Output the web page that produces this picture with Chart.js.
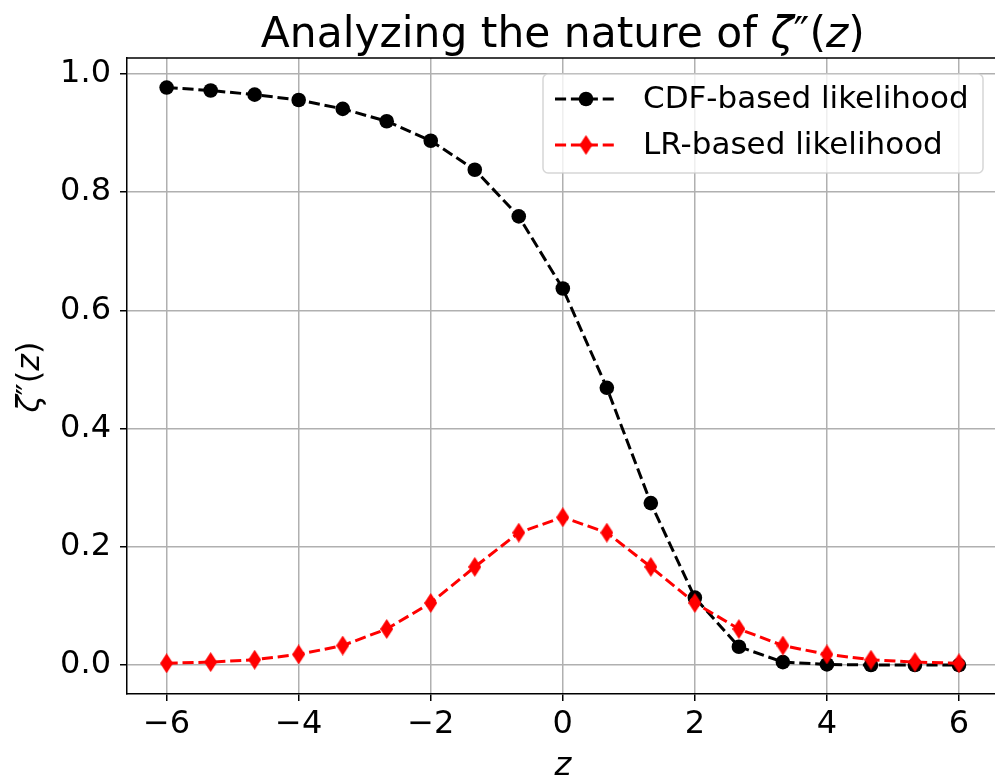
<!DOCTYPE html>
<html>
<head>
<meta charset="utf-8">
<script src="https://cdn.jsdelivr.net/npm/chart.js@4.4.1/dist/chart.umd.min.js"></script>
<style>
  html, body { margin: 0; padding: 0; background: #fff; overflow: hidden; }
  #wrap { width: 995px; height: 782px; overflow: hidden; }
</style>
</head>
<body>
<div id="wrap"><canvas id="zetaChart" width="1000" height="782"></canvas></div>
<script>
const zValues = [-6, -5.333, -4.667, -4, -3.333, -2.667, -2, -1.333, -0.667, 0, 0.667, 1.333, 2, 2.667, 3.333, 4, 4.667, 5.333, 6];
const cdfLikelihood = [0.977, 0.972, 0.965, 0.956, 0.941, 0.920, 0.887, 0.838, 0.759, 0.637, 0.469, 0.274, 0.114, 0.031, 0.005, 0.001, 0.0, 0.0, 0.0];
const lrLikelihood = [0.003, 0.005, 0.009, 0.018, 0.033, 0.061, 0.105, 0.166, 0.224, 0.250, 0.224, 0.166, 0.105, 0.061, 0.033, 0.018, 0.009, 0.005, 0.003];
const xTicks = [-6, -4, -2, 0, 2, 4, 6];
const yTicks = [0, 0.2, 0.4, 0.6, 0.8, 1.0];
const seriesLabels = ['CDF-based likelihood', 'LR-based likelihood'];

const FONT = 'DejaVu Sans';
const LINE_W = 3;
const DASH = [11.1, 4.8];

// matplotlib 'd' (thin diamond) marker
function thinDiamond(color) {
  const c = document.createElement('canvas');
  c.width = 13; c.height = 20;
  const g = c.getContext('2d');
  g.fillStyle = color;
  g.beginPath();
  g.moveTo(6.5, 0); g.lineTo(13, 10); g.lineTo(6.5, 20); g.lineTo(0, 10);
  g.closePath();
  g.fill();
  return c;
}
const diamondImg = thinDiamond('#ff0000');

function toPoints(ys) {
  return zValues.map((x, i) => ({ x, y: ys[i] }));
}

// draws text made of pieces with normal / italic faces
function drawMixed(ctx, parts, size, x, y) {
  let total = 0;
  parts.forEach(p => {
    ctx.font = `${p.i ? 'italic ' : ''}${size}px "${FONT}"`;
    p.w = ctx.measureText(p.t).width;
    total += p.w;
  });
  let cx = x - total / 2;
  parts.forEach(p => {
    ctx.font = `${p.i ? 'italic ' : ''}${size}px "${FONT}"`;
    ctx.fillText(p.t, cx, y);
    cx += p.w;
  });
}

const zetaLabel = [
  { t: 'ζ', i: true }, { t: '″' }, { t: '(' }, { t: 'z', i: true }, { t: ')' },
];

const decorations = {
  id: 'decorations',
  afterDraw(chart) {
    const { ctx, chartArea: a } = chart;
    ctx.save();
    ctx.fillStyle = '#000';
    ctx.textAlign = 'left';
    ctx.textBaseline = 'alphabetic';

    // frame: top and right spines
    ctx.strokeStyle = '#000';
    ctx.lineWidth = 1.5;
    ctx.beginPath();
    ctx.moveTo(a.left, a.top); ctx.lineTo(a.right, a.top); ctx.lineTo(a.right, a.bottom);
    ctx.stroke();

    // title
    drawMixed(ctx, [{ t: 'Analyzing the nature of ' }, ...zetaLabel], 42.4, (a.left + a.right) / 2, 47);

    // x label
    drawMixed(ctx, [{ t: 'z', i: true }], 32, (a.left + a.right) / 2, 775);

    // y label
    ctx.save();
    ctx.translate(39, 377);
    ctx.rotate(-Math.PI / 2);
    drawMixed(ctx, zetaLabel, 32, 0, 0);
    ctx.restore();

    // legend
    const bx = 543, by = 74, bw = 440, bh = 99;
    ctx.beginPath();
    ctx.roundRect(bx, by, bw, bh, 5);
    ctx.fillStyle = 'rgba(255,255,255,0.8)';
    ctx.fill();
    ctx.strokeStyle = 'rgba(204,204,204,0.8)';
    ctx.lineWidth = 1.5;
    ctx.stroke();

    const rows = [
      { color: '#000000', y: 99, marker: 'circle' },
      { color: '#ff0000', y: 145, marker: 'diamond' },
    ];
    rows.forEach((r, i) => {
      ctx.strokeStyle = r.color;
      ctx.lineWidth = LINE_W;
      ctx.setLineDash(DASH);
      ctx.beginPath();
      ctx.moveTo(555, r.y); ctx.lineTo(617, r.y);
      ctx.stroke();
      ctx.setLineDash([]);
      if (r.marker === 'circle') {
        ctx.fillStyle = r.color;
        ctx.beginPath();
        ctx.arc(586, r.y, 7.3, 0, Math.PI * 2);
        ctx.fill();
      } else {
        ctx.drawImage(diamondImg, 579.5, r.y - 10);
      }
      ctx.fillStyle = '#000';
      ctx.font = `31px "${FONT}"`;
      ctx.textAlign = 'left';
      ctx.textBaseline = 'middle';
      ctx.fillText(seriesLabels[i], 643, r.y + 1);
    });
    ctx.restore();
  },
};

new Chart(document.getElementById('zetaChart'), {
  type: 'line',
  data: {
    datasets: [
      {
        label: seriesLabels[0],
        data: toPoints(cdfLikelihood),
        borderColor: '#000000',
        backgroundColor: '#000000',
        borderWidth: LINE_W,
        borderDash: DASH,
        pointStyle: 'circle',
        pointRadius: 7.3,
        pointBorderWidth: 0,
        pointBackgroundColor: '#000000',
        tension: 0,
        order: 1,
      },
      {
        label: seriesLabels[1],
        data: toPoints(lrLikelihood),
        borderColor: '#ff0000',
        backgroundColor: '#ff0000',
        borderWidth: LINE_W,
        borderDash: DASH,
        pointStyle: diamondImg,
        pointRadius: 10,
        tension: 0,
        order: 0,
      },
    ],
  },
  options: {
    responsive: false,
    devicePixelRatio: 1,
    animation: false,
    layout: { autoPadding: false, padding: { top: 58, right: 1.4, bottom: 0, left: 0 } },
    plugins: {
      legend: { display: false },
      title: { display: false },
      tooltip: { enabled: false },
    },
    scales: {
      x: {
        type: 'linear',
        min: -6.6,
        max: 6.6,
        afterBuildTicks: (scale) => { scale.ticks = xTicks.map(v => ({ value: v })); },
        afterFit: (scale) => {
          scale.height = 88;
          scale.paddingLeft = 0;
          scale.paddingRight = 0;
        },
        grid: { color: '#b0b0b0', lineWidth: 1.5, tickColor: '#000', tickLength: 7 },
        border: { display: true, color: '#000', width: 1.5 },
        ticks: {
          color: '#000',
          font: { family: FONT, size: 32 },
          padding: 4,
          maxRotation: 0,
          callback: (v) => String(v).replace('-', '\u2212'),
        },
      },
      y: {
        type: 'linear',
        min: -0.049,
        max: 1.027,
        afterBuildTicks: (scale) => { scale.ticks = yTicks.map(v => ({ value: v })); },
        afterFit: (scale) => {
          scale.width = 127;
          scale.paddingTop = 0;
          scale.paddingBottom = 0;
        },
        grid: { color: '#b0b0b0', lineWidth: 1.5, tickColor: '#000', tickLength: 7 },
        border: { display: true, color: '#000', width: 1.5 },
        ticks: {
          color: '#000',
          font: { family: FONT, size: 32 },
          padding: 9,
          callback: (v) => Number(v).toFixed(1),
        },
      },
    },
  },
  plugins: [decorations],
});
</script>
</body>
</html>
